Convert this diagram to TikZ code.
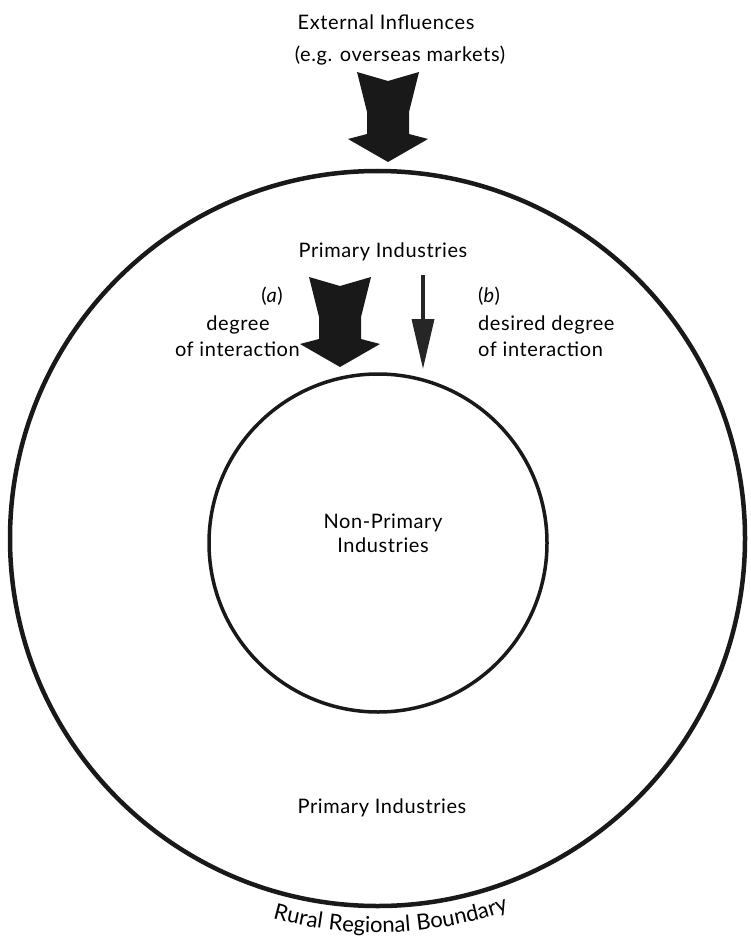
\documentclass[tikz,border=0pt]{standalone}
\usepackage{fontspec}
\setmainfont{Lato}[LetterSpace=3]
\usetikzlibrary{arrows.meta,calc,decorations.text}
\newcommand{\fatarrow}[1]{\fill[fatfill] ($(#1)+(-31,0)$) -- ($(#1)+(0,9)$) -- ($(#1)+(31,0)$) -- ($(#1)+(21,40)$) -- ($(#1)+(21,62)$) -- ($(#1)+(40,67)$) -- ($(#1)+(0,90)$) -- ($(#1)+(-40,67)$) -- ($(#1)+(-21,62)$) -- ($(#1)+(-21,40)$) -- cycle}

\begin{document}
\begin{tikzpicture}[
      x=1pt,y=-1pt,
      txt/.style={inner sep=0pt,font=\fontsize{20}{24}\selectfont},
      ring/.style={circle,draw=black!90,inner sep=0pt},
      fatfill/.style={fill=black!90},
      thinarrow/.style={draw=black!85,line width=3.5pt,-{Triangle[length=50pt,width=22pt]}}]

      \useasboundingbox (0,0) rectangle (751,941);

      % Define rings
      \node[ring,line width=4.5pt,minimum size=735pt] (outer) at (377.5,538.5) {};
      \node[ring,line width=3.5pt,minimum size=338pt] (inner) at (378,543) {};

      % Define labels
      \node[txt] (ext) at (386,22) {External Influences};
      \node[txt] (eg) at (400,56) {(e.g. overseas markets)};
      \node[txt] (prim) at (383,252) {Primary Industries};
      \node[txt] (a) at (272,296) {(\textit{a})};
      \node[txt] (adeg) at (238,325) {degree};
      \node[txt,anchor=east] (aint) at (300,349) {of interaction};
      \node[txt,anchor=west] (b) at (478,296) {(\textit{b})};
      \node[txt,anchor=west] (bdeg) at (478,325) {desired degree};
      \node[txt,anchor=west] (bint) at (478,349) {of interaction};
      \node[txt,align=center] (nonprim) at (383,533) {Non-Primary\\Industries};
      \node[txt] (primlow) at (382,808) {Primary Industries};

      % Draw arrows
      \coordinate (extarrow) at (388,72);
      \coordinate (aarrow) at (340,277);
      \coordinate (bstart) at (423,275);
      \coordinate (bend) at (423,369);
      \fatarrow{extarrow};
      \fatarrow{aarrow};
      \draw[thinarrow] (bstart) -- (bend);

      % Boundary text
      \path[decorate,decoration={text along path,text align=center,
        text={|\fontsize{22}{26}\selectfont|Rural Regional Boundary}}]
        ($(outer.center)+(162:394)$) arc[start angle=162,end angle=14,radius=394];

  \end{tikzpicture}
\end{document}
